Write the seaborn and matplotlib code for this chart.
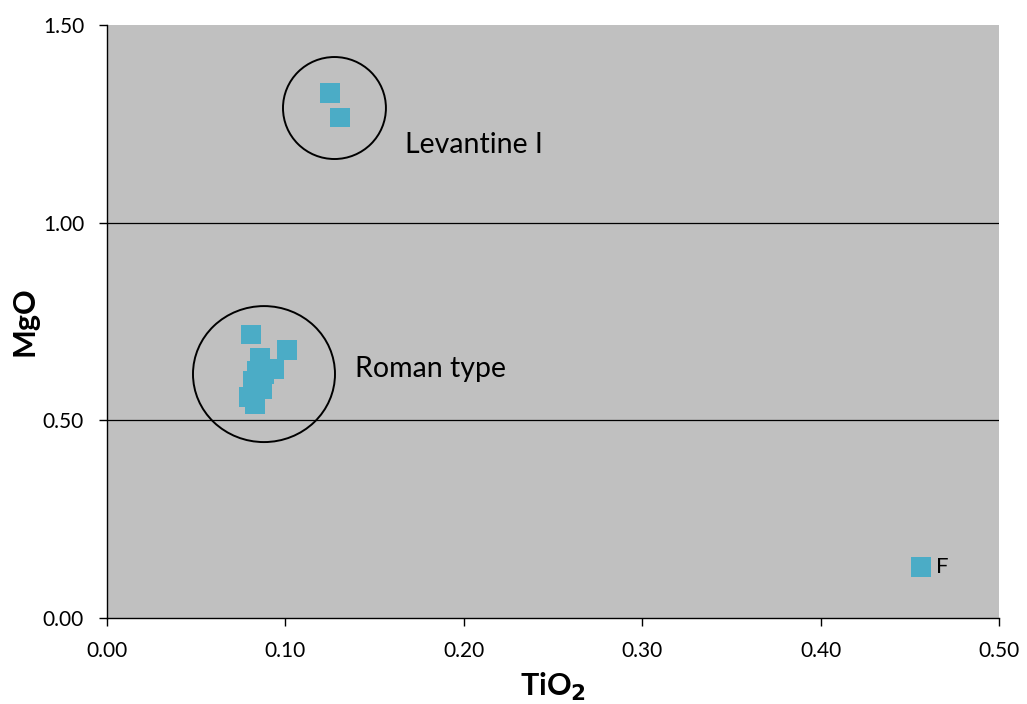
import matplotlib
matplotlib.use("Agg")
import matplotlib.pyplot as plt
import seaborn as sns
import pandas as pd
from matplotlib.patches import Ellipse

tio2 = [0.1250, 0.1306,
        0.0807, 0.1009, 0.0858, 0.0936, 0.0841, 0.0818, 0.0874, 0.0869, 0.0796, 0.0830, 0.0850, 0.0880,
        0.4563]
mgo = [1.328, 1.267,
       0.718, 0.678, 0.658, 0.630, 0.625, 0.600, 0.597, 0.579, 0.559, 0.539, 0.610, 0.615,
       0.129]

df = pd.DataFrame({"TiO2": tio2, "MgO": mgo})

sns.set_style("white")
plt.rcParams['font.family'] = ['Lato', 'DejaVu Sans']
plt.rcParams['text.color'] = 'black'
plt.rcParams['axes.labelcolor'] = 'black'
plt.rcParams['xtick.color'] = 'black'
plt.rcParams['ytick.color'] = 'black'

fig = plt.figure(figsize=(10.27, 7.04), dpi=100)
ax = fig.add_axes([107/1027, 1-618/704, (999-107)/1027, (618-25)/704])
ax.set_facecolor("#C0C0C0")

for yv in [0.5, 1.0]:
    ax.axhline(yv, color="black", lw=0.9, zorder=1)

sns.scatterplot(data=df, x="TiO2", y="MgO", marker="s", s=190, color="#4BACC6",
                edgecolor="none", linewidth=0, ax=ax, zorder=3)

ax.add_patch(Ellipse((0.1275, 1.290), 0.0577, 0.258, fill=False, edgecolor="black", lw=1.4, zorder=4))
ax.add_patch(Ellipse((0.0880, 0.617), 0.0796, 0.344, fill=False, edgecolor="black", lw=1.4, zorder=4))

ax.text(0.167, 1.197, "Levantine I", fontsize=20.5, va="center", ha="left")
ax.text(0.139, 0.630, "Roman type", fontsize=20.5, va="center", ha="left")
ax.text(0.4645, 0.129, "F", fontsize=16, va="center", ha="left")

ax.set_xlim(0, 0.5)
ax.set_ylim(0, 1.5)
ax.set_xticks([0, 0.1, 0.2, 0.3, 0.4, 0.5])
ax.set_yticks([0, 0.5, 1.0, 1.5])
ax.set_xticklabels([f"{v:.2f}" for v in [0, 0.1, 0.2, 0.3, 0.4, 0.5]], fontsize=15)
ax.set_yticklabels([f"{v:.2f}" for v in [0, 0.5, 1.0, 1.5]], fontsize=15)
ax.tick_params(axis="both", direction="out", length=5.5, width=1, color="black", pad=11)
ax.tick_params(axis="x", which="both", bottom=True)
ax.tick_params(axis="y", which="both", left=True)

for side in ["top", "right"]:
    ax.spines[side].set_visible(False)
for side in ["left", "bottom"]:
    ax.spines[side].set_color("black")
    ax.spines[side].set_linewidth(1)

ax.set_xlabel("TiO$_\\mathbf{2}$", fontsize=22, fontweight="bold", labelpad=7)
ax.set_ylabel("MgO", fontsize=22, fontweight="bold", labelpad=3)

fig.savefig("out.png", dpi=100)
